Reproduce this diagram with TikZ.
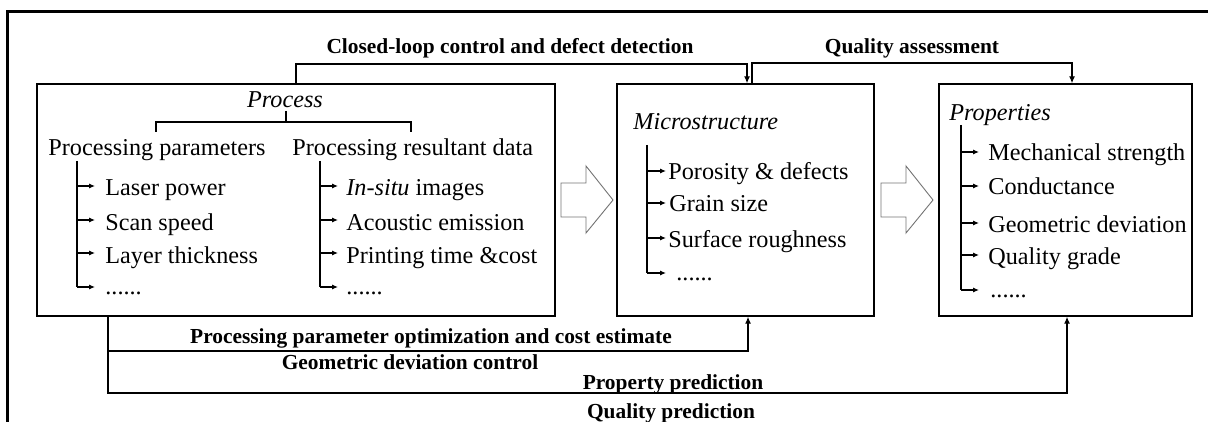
\documentclass[tikz,border=0pt]{standalone}
\usepackage{fontspec}
\setmainfont{Liberation Serif}
\usetikzlibrary{arrows.meta,fit}
\begin{document}
\begin{tikzpicture}[x=0.5pt,y=-0.5pt,
  box/.style={draw, line width=0.65pt, inner sep=0pt},
  txt/.style={font=\fontsize{12.1}{14}\selectfont, inner sep=0pt, anchor=base west},
  ttl/.style={font=\itshape\fontsize{12.1}{14}\selectfont, inner sep=0pt, anchor=base west},
  lbl/.style={font=\bfseries\fontsize{10.7}{13}\selectfont, inner sep=0pt, anchor=base},
  conn/.style={line width=0.65pt, -{Latex[length=3.5pt,width=3pt]}},
  line/.style={line width=0.65pt},
  tarr/.style={line width=0.65pt, -{Latex[length=3pt,width=2.6pt]}},
  hollow/.style={draw=black!55, line width=0.45pt}]
\useasboundingbox (0,0) rectangle (1208,422);
% outer frame (top and left only)
\draw[line width=1.5pt] (7,422) -- (7,12) -- (1210,12);

% boxes
\node[box, fit={(37,84) (555,316)}] (proc) {};
\node[box, fit={(617,84) (874,316)}] (micro) {};
\node[box, fit={(939,84) (1192,316)}] (prop) {};

% hollow arrows
\draw[hollow] (561,183) -- (586,183) -- (586,166) -- (613,200) -- (586,233) -- (586,217) -- (561,217) -- cycle;
\draw[hollow] (881,183) -- (906,183) -- (906,166) -- (933,200) -- (906,233) -- (906,217) -- (881,217) -- cycle;

% Process content
\node[txt, font=\itshape\fontsize{12.1}{14}\selectfont, anchor=base] (ptitle) at (285,108) {Process};
\draw[line] (286,111) -- (286,122);
\draw[line] (156,132) -- (156,122) -- (411,122) -- (411,132);
\node[txt] (pp) at (48,156) {Processing parameters};
\node[txt] (prd) at (292,156) {Processing resultant data};

\draw[line] (77,161) -- (77,287);
\foreach \y in {186,220,253,287} \draw[tarr] (77,\y) -- (95,\y);
\node[txt] (l1) at (105,196) {Laser power};
\node[txt] (l2) at (105,230) {Scan speed};
\node[txt] (l3) at (105,263) {Layer thickness};
\node[txt] (l4) at (105,294) {......};

\draw[line] (320,161) -- (320,287);
\foreach \y in {186,220,253,287} \draw[tarr] (320,\y) -- (338,\y);
\node[txt] (r1) at (346,196) {\textit{In-situ} images};
\node[txt] (r2) at (346,230) {Acoustic emission};
\node[txt] (r3) at (346,263) {Printing time \&cost};
\node[txt] (r4) at (346,294) {......};

% Microstructure content
\node[ttl] (mtitle) at (633,130) {Microstructure};
\draw[line] (647,145) -- (647,273);
\foreach \y in {171,203,238,273} \draw[tarr] (647,\y) -- (666,\y);
\node[txt] (m1) at (668,180) {Porosity \& defects};
\node[txt] (m2) at (669,212) {Grain size};
\node[txt] (m3) at (668,247) {Surface roughness};
\node[txt] (m4) at (676,280) {......};

% Properties content
\node[ttl] (prtitle) at (949,121) {Properties};
\draw[line] (961,125) -- (961,290);
\foreach \y in {152,186,223,255,290} \draw[tarr] (961,\y) -- (979,\y);
\node[txt] (q1) at (988,161) {Mechanical strength};
\node[txt] (q2) at (988,195) {Conductance};
\node[txt] (q3) at (988,232) {Geometric deviation};
\node[txt] (q4) at (988,264) {Quality grade};
\node[txt] (q5) at (990,297) {......};

% top connectors
\draw[conn] (296,0 |- proc.north) -- (296,64) -- (747,64) -- (747,0 |- micro.north);
\draw[conn] (752,0 |- micro.north) -- (752,63) -- (1072,63) -- (1072,0 |- prop.north);
\node[lbl] (cl) at (510,54) {Closed-loop control and defect detection};
\node[lbl] (qa) at (912,54) {Quality assessment};

% bottom connectors
\draw[conn] (108,0 |- proc.south) -- (108,351) -- (748,351) -- (748,0 |- micro.south);
\draw[conn] (108,351) -- (108,393) -- (1067,393) -- (1067,0 |- prop.south);
\node[lbl] (po) at (431,343) {Processing parameter optimization and cost estimate};
\node[lbl] (gd) at (410,369) {Geometric deviation control};
\node[lbl] (pr) at (673,389) {Property prediction};
\node[lbl] (qp) at (671,418) {Quality prediction};
\end{tikzpicture}
\end{document}
